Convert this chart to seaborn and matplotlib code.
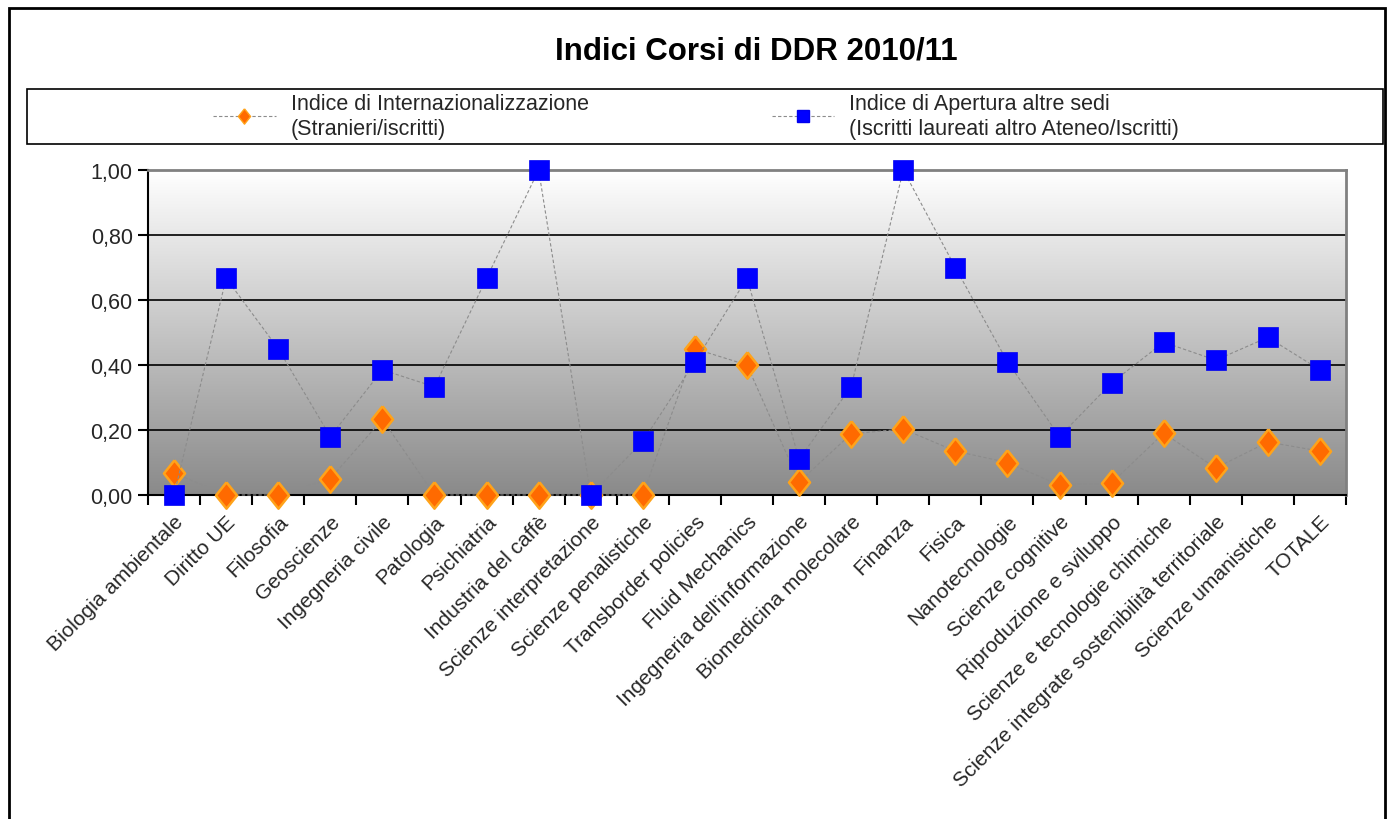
import numpy as np
import pandas as pd
import seaborn as sns
import matplotlib.pyplot as plt
from matplotlib.colors import LinearSegmentedColormap
from matplotlib.lines import Line2D
from matplotlib.patches import Rectangle

# Data
corsi = ['Biologia ambientale', 'Diritto UE', 'Filosofia', 'Geoscienze',
         'Ingegneria civile', 'Patologia', 'Psichiatria', 'Industria del caffè',
         'Scienze interpretazione', 'Scienze penalistiche', 'Transborder policies',
         'Fluid Mechanics', "Ingegneria dell'informazione", 'Biomedicina molecolare',
         'Finanza', 'Fisica', 'Nanotecnologie', 'Scienze cognitive',
         'Riproduzione e sviluppo', 'Scienze e tecnologie chimiche',
         'Scienze integrate sostenibilità territoriale', 'Scienze umanistiche', 'TOTALE']
internaz = [0.068, 0.0, 0.0, 0.05, 0.233, 0.0, 0.0, 0.0, 0.0, 0.0, 0.45,
            0.40, 0.04, 0.188, 0.203, 0.135, 0.10, 0.03, 0.037, 0.19,
            0.083, 0.163, 0.135]
apertura = [0.0, 0.667, 0.45, 0.18, 0.385, 0.333, 0.667, 1.0, 0.0, 0.165, 0.41,
            0.667, 0.11, 0.333, 1.0, 0.70, 0.41, 0.18, 0.345, 0.47,
            0.415, 0.485, 0.385]
yticks = [0.0, 0.2, 0.4, 0.6, 0.8, 1.0]
ytick_labels = ['0,00', '0,20', '0,40', '0,60', '0,80', '1,00']
lab_int = 'Indice di Internazionalizzazione\n(Stranieri/iscritti)'
lab_ape = 'Indice di Apertura altre sedi\n(Iscritti laureati altro Ateneo/Iscritti)'

df = pd.DataFrame({'pos': np.arange(len(corsi)), 'corso': corsi,
                   'internaz': internaz, 'apertura': apertura})

sns.set_style('white')
plt.rcParams['font.family'] = ['Liberation Sans', 'DejaVu Sans']

fig = plt.figure(figsize=(13.93, 8.2), dpi=100)
ax = fig.add_axes([148 / 1393, 1 - 496 / 820, 1198 / 1393, 325 / 820])

# gradient background, white at top to grey at bottom
cmap = LinearSegmentedColormap.from_list('bg', ['#ffffff', '#8a8a8a'])
grad = np.linspace(0, 1, 256).reshape(-1, 1)
ax.imshow(grad, cmap=cmap, aspect='auto', origin='upper',
          extent=[-0.5, len(corsi) - 0.5, 0, 1], zorder=0)

for y in yticks[1:-1]:
    ax.axhline(y, color='black', lw=1.2, zorder=1)

diamond = [(0, 1), (0.8, 0), (0, -1), (-0.8, 0), (0, 1)]
line_kw = dict(color='#8c8c8c', lw=0.8, linestyle=(0, (3, 2)))
sns.lineplot(data=df, x='pos', y='internaz', ax=ax, marker=diamond, markersize=19,
             markerfacecolor='#ff6a00', markeredgecolor='#ffa31a',
             markeredgewidth=1.8, clip_on=False, zorder=3, **line_kw)
sns.lineplot(data=df, x='pos', y='apertura', ax=ax, marker='s', markersize=14,
             markerfacecolor='#0000ff', markeredgecolor='#0000ee',
             markeredgewidth=0.5, clip_on=False, zorder=4, **line_kw)

ax.set_xlim(-0.5, len(corsi) - 0.5)
ax.set_ylim(0, 1)
ax.set_xlabel('')
ax.set_ylabel('')

ax.set_yticks(yticks)
ax.set_yticklabels(ytick_labels, fontsize=15.5)
ax.set_xticks(df['pos'])
ax.set_xticklabels(corsi, rotation=45, ha='right', rotation_mode='anchor',
                   fontsize=15)
ax.set_xticks(np.arange(len(corsi) + 1) - 0.5, minor=True)
ax.tick_params(axis='x', which='major', length=0, pad=12)
ax.tick_params(axis='x', which='minor', length=7, width=1.5, color='black',
               direction='out', bottom=True)
ax.tick_params(axis='y', length=7, width=1.5, color='black', direction='out',
               left=True, pad=4)

for side in ['left', 'bottom']:
    ax.spines[side].set_color('black')
    ax.spines[side].set_linewidth(1.5)
for side in ['top', 'right']:
    ax.spines[side].set_color('#808080')
    ax.spines[side].set_linewidth(2)
    ax.spines[side].set_visible(True)

fig.text(756 / 1393, 1 - 52 / 820, 'Indici Corsi di DDR 2010/11',
         ha='center', va='center', fontsize=22.5, fontweight='bold', color='black')

# legend box
fig.add_artist(Rectangle((27 / 1393, 1 - 145 / 820), (1383 - 27) / 1393, 55 / 820,
                         transform=fig.transFigure, fill=False, edgecolor='black',
                         lw=1.2))
handles = [Line2D([], [], marker=diamond, markersize=11, markerfacecolor='#ff6a00',
                  markeredgecolor='#ffa31a', **line_kw),
           Line2D([], [], marker='s', markersize=8, markerfacecolor='#0000ff',
                  markeredgecolor='#0000ee', **line_kw)]
fig.legend(handles, [lab_int, lab_ape], ncol=2, frameon=False, fontsize=15.5,
           loc='center', bbox_to_anchor=(696 / 1393, 1 - 117 / 820),
           handlelength=2.9, handletextpad=0.7, columnspacing=8.5,
           labelspacing=0.2)

# outer frame
fig.add_artist(Rectangle((9 / 1393, -0.02), (1385 - 9) / 1393, 1.02 - 9 / 820,
                         transform=fig.transFigure, fill=False, edgecolor='black',
                         lw=2))

fig.savefig('out.png', dpi=100)
